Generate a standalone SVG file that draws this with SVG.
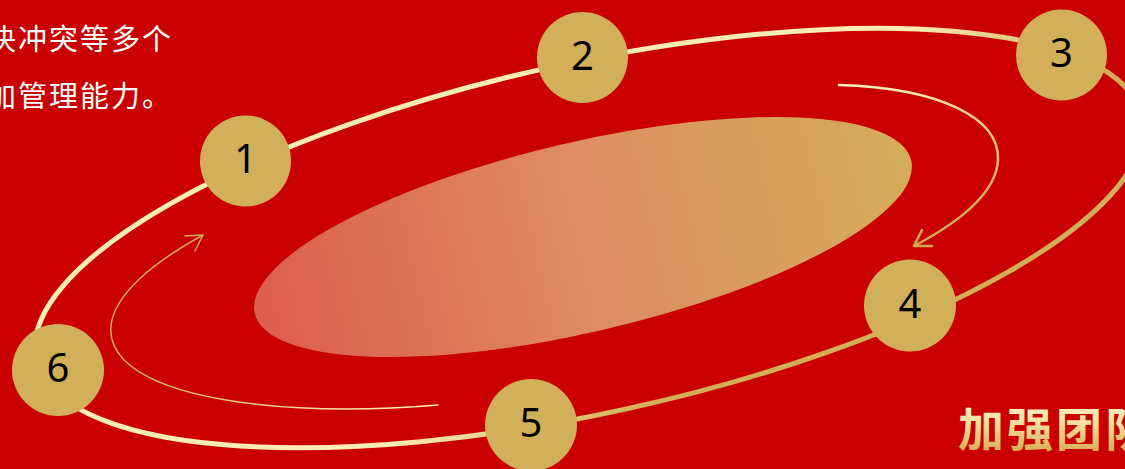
<svg xmlns="http://www.w3.org/2000/svg" width="1125" height="469" viewBox="0 0 1125 469">
  <defs>
    <linearGradient id="ringGrad" gradientUnits="userSpaceOnUse" x1="430" y1="360" x2="490" y2="480">
      <stop offset="0" stop-color="#FAECB4"/>
      <stop offset="1" stop-color="#D2AE55"/>
    </linearGradient>
    <linearGradient id="coreGrad" gradientUnits="userSpaceOnUse" x1="254" y1="0" x2="912" y2="0">
      <stop offset="0" stop-color="#DC5E4E"/>
      <stop offset="0.5" stop-color="#DE8C60"/>
      <stop offset="1" stop-color="#D4AC5A"/>
    </linearGradient>
    <linearGradient id="arrowRGrad" gradientUnits="userSpaceOnUse" x1="840" y1="85" x2="915" y2="247">
      <stop offset="0" stop-color="#FFF4C6"/>
      <stop offset="1" stop-color="#D4A852"/>
    </linearGradient>
    <linearGradient id="arrowLGrad" gradientUnits="userSpaceOnUse" x1="438" y1="405" x2="204" y2="234">
      <stop offset="0" stop-color="#FFF2BE"/>
      <stop offset="1" stop-color="#D4A852"/>
    </linearGradient>
    <linearGradient id="titleGrad" x1="0" y1="0" x2="0" y2="1">
      <stop offset="0" stop-color="#FFF8D8"/>
      <stop offset="0.45" stop-color="#F5DFA0"/>
      <stop offset="1" stop-color="#D3A043"/>
    </linearGradient>
  </defs>
  <style>
    .node circle { fill: #D2B05A; }
    .node text { font-family: "Noto Sans", "DejaVu Sans", sans-serif; font-size: 40px; fill: #000000; text-anchor: middle; }
    .body { font-family: "Noto Sans CJK SC", "Noto Sans", sans-serif; font-size: 29px; fill: #FFFFFF; letter-spacing: 2px; }
    .title { font-family: "Noto Sans CJK SC", "Noto Sans", sans-serif; font-size: 46px; font-weight: bold; fill: url(#titleGrad); letter-spacing: 3px; }
  </style>

  <rect x="0" y="0" width="1125" height="469" fill="#CA0000"/>

  <!-- central glow ellipse -->
  <ellipse cx="583" cy="237" rx="337" ry="95" transform="rotate(-13.1 583 237)" fill="url(#coreGrad)"/>

  <!-- orbit ring -->
  <ellipse cx="589" cy="238" rx="566" ry="175" transform="rotate(-12.4 589 238)" fill="none" stroke="url(#ringGrad)" stroke-width="5"/>

  <!-- texts -->
  <text class="body" x="-13" y="50">决冲突等多个</text>
  <text class="body" x="-13" y="107">加管理能力。</text>
  <text class="title" x="958" y="446">加强团队</text>

  <!-- connectors -->
  <g id="connectors" fill="none" stroke-linecap="round" stroke-linejoin="round">
    <g id="arrow-right" stroke="url(#arrowRGrad)">
      <path d="M839,85 C940,88 1000,118 998,160 C996,196 952,226 914,246" stroke-width="2.5"/>
      <path d="M922,230 L914,246 L932,246" stroke="#D4A852" stroke-width="2.5"/>
    </g>
    <g id="arrow-left" stroke="url(#arrowLGrad)">
      <path d="M438,405 C310,416 170,405 124,360 C92,326 118,282 203,235" stroke-width="1.5"/>
      <path d="M185,236 L203,235 L195,251" stroke="#D4A852" stroke-width="1.5"/>
    </g>
  </g>

  <!-- nodes -->
  <g id="node-1" class="node"><circle cx="245.5" cy="161" r="45.5"/><text x="245.5" y="173">1</text></g>
  <g id="node-2" class="node"><circle cx="582.5" cy="57.5" r="45.5"/><text x="582.5" y="70">2</text></g>
  <g id="node-3" class="node"><circle cx="1061.5" cy="55" r="45.5"/><text x="1061.5" y="67">3</text></g>
  <g id="node-4" class="node"><circle cx="910" cy="305.5" r="46"/><text x="910" y="318">4</text></g>
  <g id="node-5" class="node"><circle cx="531" cy="425" r="46"/><text x="531" y="437">5</text></g>
  <g id="node-6" class="node"><circle cx="58" cy="370" r="46"/><text x="58" y="382">6</text></g>
</svg>
